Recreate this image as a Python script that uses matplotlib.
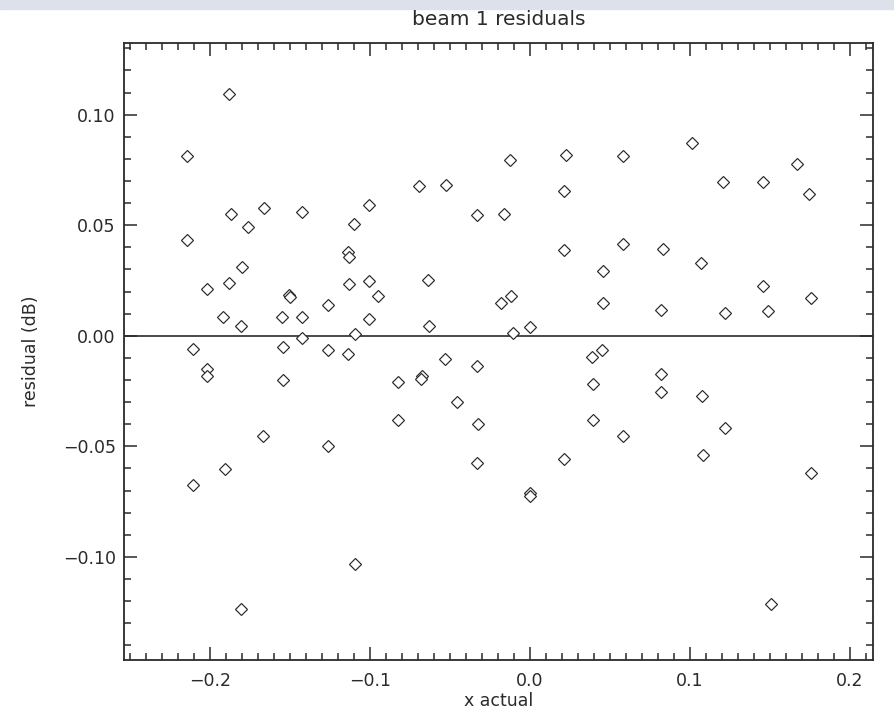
import matplotlib
matplotlib.use("Agg")
import matplotlib.pyplot as plt
from matplotlib.ticker import MultipleLocator

# beam 1 residuals
x_actual = [
    -0.1879, -0.2142, -0.2142, -0.1871, -0.1660, -0.1765, -0.1425, -0.1004, -0.1102, -0.1137,
    -0.1129, -0.1798, -0.2017, -0.1883, -0.1506, -0.1502, -0.1133, -0.1004, -0.0948, -0.1262,
    -0.1917, -0.1550, -0.1425, -0.1004, -0.1808, -0.1425, -0.1092, -0.2104, -0.1544, -0.1265,
    -0.1137, -0.2017, -0.2017, -0.1544, -0.1667, -0.1265, -0.1908, -0.2104, -0.1092, -0.1808,
    -0.0692, -0.0527, -0.0125, 0.0223, 0.0583, 0.0214, -0.0333, -0.0163, 0.0214, 0.0583,
    0.0456, -0.0636, -0.0179, -0.0117, 0.0456, -0.0629, -0.0108, 0.0000,
    -0.0529, -0.0333, -0.0825, -0.0677, -0.0683, -0.0458, -0.0825, -0.0325, -0.0333,
    0.0000, 0.0000, 0.0385, 0.0448, 0.0392, 0.0392, 0.0214, 0.0583,
    0.1010, 0.1665, 0.1208, 0.1458, 0.1744, 0.0831, 0.1065, 0.1458, 0.1754, 0.0815,
    0.1217, 0.1485, 0.0815, 0.0815, 0.1073, 0.1217, 0.1083, 0.1754, 0.1504,
]
residual = [
    0.1094, 0.0811, 0.0434, 0.0551, 0.0578, 0.0490, 0.0558, 0.0591, 0.0505, 0.0377,
    0.0356, 0.0309, 0.0213, 0.0238, 0.0186, 0.0175, 0.0234, 0.0247, 0.0181, 0.0140,
    0.0085, 0.0085, 0.0085, 0.0078, 0.0045, -0.0008, 0.0008, -0.0060, -0.0051, -0.0065,
    -0.0083, -0.0151, -0.0181, -0.0202, -0.0452, -0.0498, -0.0603, -0.0674, -0.1030, -0.1237,
    0.0676, 0.0682, 0.0793, 0.0818, 0.0813, 0.0656, 0.0544, 0.0552, 0.0389, 0.0415,
    0.0291, 0.0253, 0.0148, 0.0181, 0.0148, 0.0045, 0.0012, 0.0039,
    -0.0104, -0.0136, -0.0208, -0.0184, -0.0196, -0.0299, -0.0382, -0.0401, -0.0576,
    -0.0712, -0.0724, -0.0097, -0.0066, -0.0220, -0.0382, -0.0555, -0.0452,
    0.0870, 0.0778, 0.0694, 0.0694, 0.0643, 0.0394, 0.0330, 0.0226, 0.0169, 0.0118,
    0.0103, 0.0110, -0.0175, -0.0253, -0.0273, -0.0415, -0.0538, -0.0621, -0.1211,
]

XLIM = (-0.2538, 0.2143)
YLIM = (-0.1466, 0.1324)

plt.rcParams["font.family"] = ["DejaVu Sans"]

fig = plt.figure(figsize=(8.94, 7.18), dpi=100)
# light strip along the top of the screenshot
fig.patches.append(plt.Rectangle((0, 1 - 9 / 718), 1, 9 / 718, transform=fig.transFigure,
                                 color="#dce1eb", zorder=-1))

ax = fig.add_axes([124 / 894, 58 / 718, 749 / 894, 617 / 718])
ink = "#2a2a2a"

ax.axhline(0.0, color=ink, lw=1.2, zorder=1)
ax.plot(x_actual, residual, ls="none", marker="D", ms=6.2, mfc="white", mec=ink, mew=0.85, zorder=2)

ax.set_xlim(*XLIM)
ax.set_ylim(*YLIM)
ax.xaxis.set_major_locator(MultipleLocator(0.1))
ax.xaxis.set_minor_locator(MultipleLocator(0.01))
ax.yaxis.set_major_locator(MultipleLocator(0.05))
ax.yaxis.set_minor_locator(MultipleLocator(0.01))
ax.xaxis.set_major_formatter(plt.FuncFormatter(lambda v, p: f"{v:.1f}".replace("-", "\u2212")))
ax.yaxis.set_major_formatter(plt.FuncFormatter(lambda v, p: f"{v:.2f}".replace("-", "\u2212")))

ax.tick_params(which="both", direction="in", top=True, right=True, colors=ink, width=1.1)
ax.tick_params(which="major", length=9.5, labelsize=12.5, labelcolor=ink)
ax.tick_params(axis="x", which="major", pad=9)
ax.tick_params(axis="y", which="major", pad=6)
ax.tick_params(which="minor", length=4.8)
for s in ax.spines.values():
    s.set_color(ink)
    s.set_linewidth(1.3)

ax.set_title("beam 1 residuals", fontsize=14.5, color=ink, pad=13)
ax.set_xlabel("x actual", fontsize=12.5, color=ink, labelpad=1)
ax.set_ylabel("residual (dB)", fontsize=12.5, color=ink, labelpad=16)

fig.savefig("out.png", dpi=100)
